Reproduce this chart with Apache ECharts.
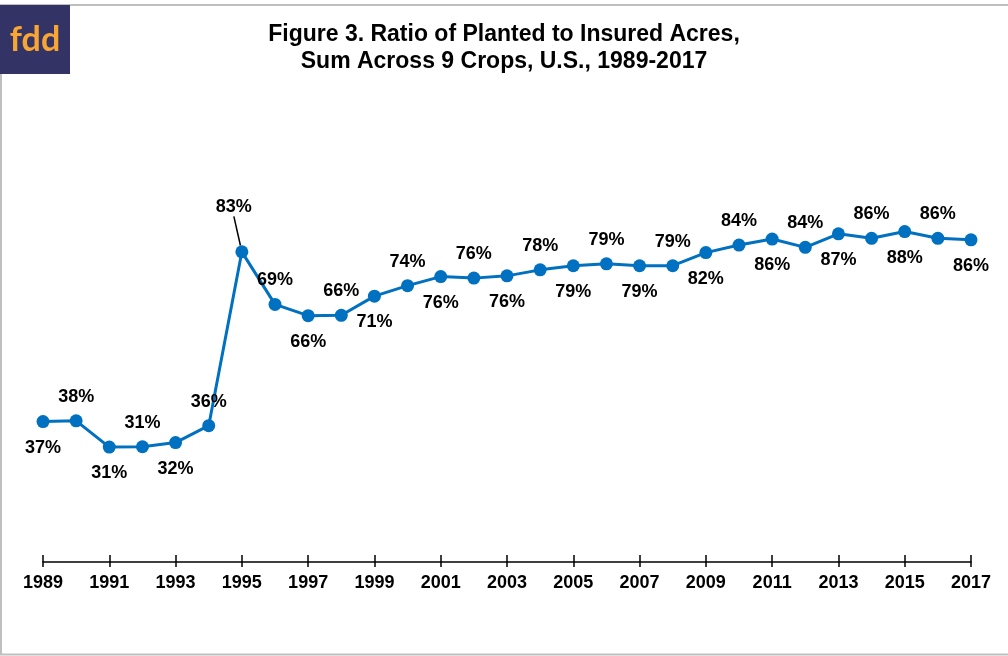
<!DOCTYPE html>
<html>
<head>
<meta charset="utf-8">
<script src="https://cdn.jsdelivr.net/npm/echarts@6/dist/echarts.min.js"></script>
<style>
  html, body { margin: 0; padding: 0; background: #fff; }
  #chart { width: 1008px; height: 656px; }
</style>
</head>
<body>
<div id="chart"></div>
<script>
// years on the x axis
var years = ['1989', '1990', '1991', '1992', '1993', '1994', '1995', '1996', '1997', '1998',
  '1999', '2000', '2001', '2002', '2003', '2004', '2005', '2006', '2007', '2008',
  '2009', '2010', '2011', '2012', '2013', '2014', '2015', '2016', '2017']
// planted / insured ratio, percent
var ratio = [37.4, 37.6, 30.6, 30.7, 31.8, 36.3, 82.6, 68.6, 65.6, 65.7,
  70.8, 73.6, 76.0, 75.6, 76.2, 77.8, 78.9, 79.4, 78.9, 78.9,
  82.4, 84.4, 86.0, 83.8, 87.4, 86.2, 88.0, 86.2, 85.8]
var titleText = 'Figure 3. Ratio of Planted to Insured Acres,\nSum Across 9 Crops, U.S., 1989-2017'

var font = '"Liberation Sans", Arial, sans-serif'
var blue = '#0070C0'
var calloutIndex = 6 // 1995, label pulled up with a leader line

// labels alternate below / above
var points = ratio.map(function(v, i) {
  if (i === calloutIndex) {
    return {
      value: v,
      label: { position: 'top', distance: 8 },
      labelLine: { show: true, lineStyle: { color: '#000', width: 1.5 } }
    }
  }
  return {
    value: v,
    label: { position: i % 2 === 0 ? 'bottom' : 'top', distance: i % 2 === 0 ? 10.5 : 8.5 }
  }
})

var option = {
  animation: false,
  title: {
    text: titleText,
    left: 'center',
    top: 16,
    textStyle: {
      fontFamily: font,
      fontSize: 23,
      fontWeight: 'bold',
      color: '#000',
      lineHeight: 27
    }
  },
  graphic: [
    {
      type: 'rect',
      shape: { x: 1, y: 5, width: 1012, height: 649.5 },
      style: { fill: 'none', stroke: '#BFBFBF', lineWidth: 2 }
    },
    {
      type: 'rect',
      shape: { x: 0, y: 5, width: 70, height: 69 },
      style: { fill: '#333366' }
    },
    {
      type: 'text',
      x: 35,
      y: 40,
      style: {
        text: 'fdd',
        font: 'bold 34px Lato, "DejaVu Sans", sans-serif',
        fill: '#F9A533',
        align: 'center',
        verticalAlign: 'middle'
      }
    }
  ],
  grid: {
    left: 43,
    right: 37,
    top: 186.5,
    bottom: 94
  },
  xAxis: [
    {
      type: 'category',
      data: years,
      boundaryGap: false,
      axisLine: { lineStyle: { color: '#000', width: 1.5 } },
      axisTick: { interval: 1, length: 5, lineStyle: { color: '#000', width: 1.5 } },
      axisLabel: {
        interval: 1,
        margin: 12,
        fontFamily: font,
        fontSize: 18,
        fontWeight: 'bold',
        color: '#000'
      }
    },
    {
      type: 'category',
      data: years,
      position: 'bottom',
      boundaryGap: false,
      axisLine: { show: false },
      axisTick: { interval: 1, inside: true, length: 7, lineStyle: { color: '#000', width: 1.5 } },
      axisLabel: { show: false }
    }
  ],
  yAxis: {
    type: 'value',
    min: 0,
    max: 100,
    show: false
  },
  series: [
    {
      type: 'line',
      data: points,
      xAxisIndex: 0,
      color: blue,
      symbol: 'circle',
      symbolSize: 13,
      lineStyle: { color: blue, width: 3 },
      itemStyle: { color: blue },
      label: {
        show: true,
        fontFamily: font,
        fontSize: 18,
        fontWeight: 'bold',
        color: '#000',
        formatter: function(p) {
          return Math.round(p.value) + '%'
        }
      },
      labelLayout: function(params) {
        if (params.dataIndex === calloutIndex) {
          return { dx: -8, dy: -21 }
        }
        return {}
      }
    }
  ]
}

var myChart = echarts.init(document.getElementById('chart'))
myChart.setOption(option)
</script>
</body>
</html>
